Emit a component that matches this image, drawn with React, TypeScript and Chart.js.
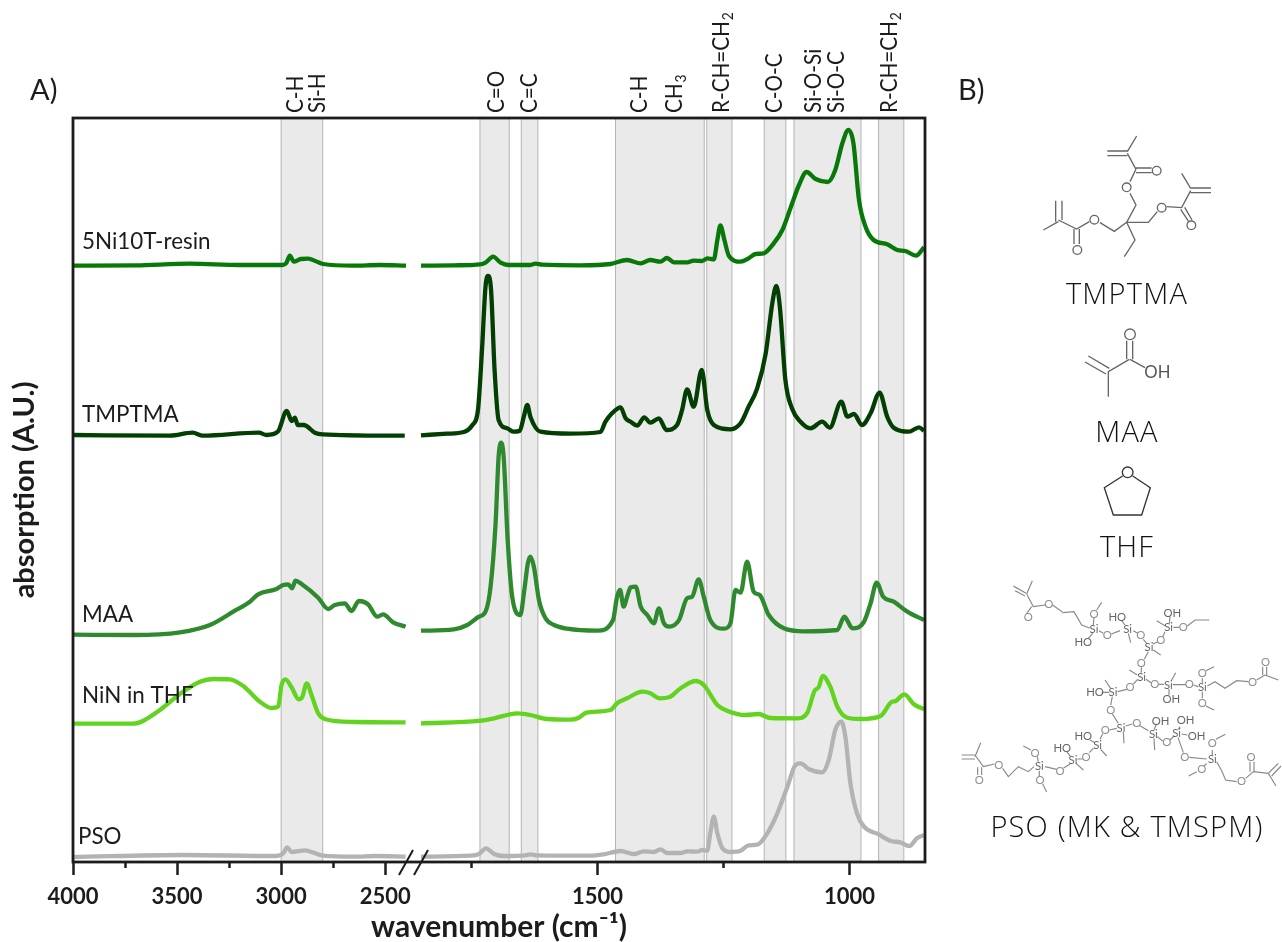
import React, { useEffect, useRef } from "react";
import { Chart, LinearScale, registerables } from "chart.js";

// ---------- wavenumber axis ----------
const AXIS_STOPS = [4000, 2400, 1850, 850];
const AXIS_FRACTIONS = [0, 333 / 852, 348 / 852, 1];
const MAJOR_TICKS = [4000, 3500, 3000, 2500, 1500, 1000];
const MINOR_TICKS = [3750, 3250, 2750, 1750, 1250];
const GAP_WAVENUMBER = 2100;

// ---------- shaded bands [from, to] in cm-1 ----------
const BANDS = [
  [3000, 2800], [1733, 1675], [1651, 1618], [1464, 1288], [1283, 1233],
  [1169, 1126], [1110, 977], [942, 892],
];

// ---------- assignment labels ----------
const ASSIGN_POS = [2934, 2829, 1702, 1635, 1417, 1349, 1254, 1149, 1073, 1026, 921];
const ASSIGN_TEXT = ["C-H", "Si-H", "C=O", "C=C", "C-H", "CH", "R-CH=CH", "C-O-C", "Si-O-Si", "Si-O-C", "R-CH=CH"];
const ASSIGN_SUB = ["", "", "", "", "", "3", "2", "", "", "", "2"];

// ---------- series names ----------
const SERIES_NAMES = ["5Ni10T-resin", "TMPTMA", "MAA", "NiN in THF", "PSO"];
const SERIES_COLORS = ["#087808", "#033f03", "#2f8a2f", "#62d420", "#b3b3b3"];
const NAME_HEIGHT = [613, 440, 240, 159, 18];

// ---------- 5Ni10T-resin ----------
const resinWaveL = [4000, 3700, 3438, 3200, 2998, 2975, 2958, 2939, 2905, 2870, 2830, 2798, 2655, 2526, 2400];
const resinAbsL = [596.3, 596.6, 598.3, 597, 597, 599, 606.3, 600.3, 603, 603.3, 600.5, 598, 596.3, 597, 596.3];
const resinWaveR = [1851, 1785, 1732, 1722, 1707, 1692, 1676, 1633, 1623, 1610, 1534, 1474, 1441, 1414, 1395, 1375, 1362, 1348, 1322, 1309, 1292, 1282, 1269, 1262, 1256, 1248, 1239, 1216, 1200, 1186, 1170, 1150, 1133, 1117, 1100, 1085, 1067, 1043, 1028, 1014, 1002, 992, 981, 968, 952, 925, 905, 889, 868, 852];
const resinAbsR = [596.3, 596.7, 597.7, 599.3, 605.3, 599.3, 597, 597, 598.3, 597.3, 596.7, 598, 602, 598.7, 602, 600.3, 604, 599.7, 599.7, 601.3, 601, 603.7, 602.7, 622, 636.7, 622, 606, 600.3, 603.7, 608, 608.7, 618.7, 632, 653.7, 677, 690, 683, 680, 692, 718.7, 732, 718.7, 662, 635.3, 622, 617.7, 612, 611, 606.3, 614.7];

// ---------- TMPTMA ----------
const tmptmaWaveL = [4000, 3534, 3425, 3376, 3107, 3070, 3016, 2973, 2949, 2934, 2920, 2891, 2838, 2800, 2406];
const tmptmaAbsL = [427, 426.3, 429.3, 426.3, 429.3, 427, 430.3, 451, 441, 444.3, 437, 437, 429.3, 427.7, 426.3];
const tmptmaWaveR = [1851, 1798, 1765, 1748, 1737, 1729, 1722, 1717, 1711, 1704, 1696, 1679, 1666, 1654, 1646, 1639, 1633, 1613, 1553, 1494, 1484, 1471, 1454, 1444, 1434, 1421, 1407, 1395, 1378, 1363, 1342, 1332, 1322, 1309, 1293, 1282, 1269, 1236, 1216, 1200, 1183, 1166, 1153, 1145, 1138, 1127, 1114, 1097, 1077, 1054, 1039, 1016, 1004, 991, 975, 958, 940, 925, 912, 882, 862, 852];
const tmptmaAbsR = [426.7, 428.3, 430, 437, 452, 512, 575.3, 586, 572, 492, 442, 433.7, 430.3, 431.3, 445.3, 457, 445.3, 430.3, 428.3, 430, 440.3, 448.7, 454.7, 443.7, 440.3, 436.3, 444.7, 439.3, 443.7, 432, 437, 452, 472.7, 455.3, 492, 452, 437, 432.7, 438.7, 455.3, 473.7, 508.7, 558.7, 576, 555.3, 482, 453.7, 440.3, 433.7, 440.3, 434.3, 460.3, 445.3, 448, 437, 448.7, 469.3, 445.3, 434.3, 430.3, 434.7, 431.3];

// ---------- MAA ----------
const maaWaveL = [4000, 3710, 3486, 3342, 3230, 3150, 3110, 3022, 2990, 2966, 2947, 2931, 2902, 2822, 2774, 2742, 2694, 2662, 2626, 2582, 2538, 2510, 2462, 2402];
const maaAbsL = [227.3, 227, 229.7, 237, 250.3, 260.3, 267.7, 273, 277, 277.7, 273.7, 281.3, 278, 264.3, 253, 257, 258.7, 251, 261, 257.7, 245.3, 247.7, 239.7, 235.3];
const maaWaveR = [1851, 1785, 1758, 1735, 1722, 1712, 1702, 1696, 1691, 1686, 1678, 1669, 1653, 1645, 1638, 1633, 1626, 1616, 1603, 1586, 1560, 1500, 1469, 1461, 1455, 1448, 1440, 1434, 1424, 1414, 1401, 1388, 1378, 1368, 1358, 1338, 1322, 1312, 1299, 1289, 1276, 1249, 1236, 1226, 1216, 1203, 1190, 1178, 1160, 1130, 1090, 1024, 1010, 994, 971, 958, 946, 933, 912, 885, 852];
const maaAbsR = [231.3, 232.7, 237, 245.3, 250.3, 275.3, 338.7, 405.3, 419.3, 405.3, 322, 265.3, 247, 272, 298.7, 305.3, 295.3, 262, 243.7, 237, 233.3, 231.3, 242, 265.3, 272, 255.3, 267, 274.7, 275.3, 255.3, 247, 238.7, 253.7, 238.7, 235.3, 242, 263.7, 265.3, 282.7, 265.3, 242, 233.3, 238.7, 272, 269.3, 300.3, 270.3, 267, 247, 233.7, 230.7, 232, 245.3, 233.7, 240.3, 258.7, 279.3, 265.3, 260.3, 250.3, 242];

// ---------- NiN in THF ----------
const ninWaveL = [4000, 3710, 3662, 3582, 3486, 3390, 3326, 3246, 3182, 3102, 3046, 3014, 2998, 2979, 2950, 2915, 2898, 2877, 2854, 2822, 2790, 2654, 2402];
const ninAbsL = [138.3, 138.3, 141.3, 152, 168, 180.3, 183, 182.7, 176, 160.3, 154, 155.3, 177, 182.7, 174.7, 162.7, 165.3, 178.7, 167, 148.7, 143, 140, 139.7];
const ninWaveR = [1851, 1732, 1705, 1659, 1633, 1600, 1553, 1537, 1522, 1474, 1461, 1441, 1411, 1395, 1376, 1358, 1335, 1305, 1289, 1262, 1243, 1206, 1180, 1157, 1104, 1084, 1069, 1061, 1053, 1038, 1024, 1004, 978, 938, 917, 908, 891, 872, 852];
const ninAbsR = [138.7, 141.3, 143.7, 148.7, 147, 143, 142.3, 144.3, 149.3, 152, 158.7, 163.7, 170.3, 168.7, 163.7, 164.7, 173.7, 181, 177, 157, 151.3, 147, 148, 144, 143.7, 148.7, 171.3, 174.7, 186, 175.3, 155.3, 144.3, 143, 146, 159.7, 161, 167.7, 157.7, 152.7];

// ---------- PSO ----------
const psoWaveL = [4000, 3470, 3022, 2990, 2971, 2950, 2886, 2798, 2654, 2542, 2402];
const psoAbsL = [5, 7, 6, 8.7, 14.7, 10, 11.7, 6.3, 5.3, 6, 5.3];
const psoWaveR = [1851, 1752, 1735, 1721, 1705, 1686, 1643, 1633, 1620, 1514, 1487, 1454, 1428, 1408, 1388, 1375, 1362, 1335, 1322, 1302, 1292, 1282, 1276, 1269, 1262, 1252, 1236, 1216, 1200, 1183, 1163, 1143, 1123, 1107, 1097, 1080, 1054, 1041, 1028, 1016, 1008, 998, 985, 971, 942, 918, 899, 881, 866, 852];
const psoAbsR = [5.3, 6.3, 8, 13.7, 8, 6, 6.7, 7.7, 6.7, 6.3, 7.7, 11, 8, 10.7, 10, 12.7, 9, 9, 10.7, 10.3, 12, 11.3, 28.7, 45.3, 28.7, 13.7, 10, 11.3, 16.7, 17.3, 28.7, 48.7, 75.3, 97, 98.7, 92.7, 89.7, 102, 132, 140.3, 125.3, 78.7, 48.7, 35.3, 27.7, 21, 19.7, 16, 23.7, 27];

const Y_MAX = 744;

const FONT = "Lato, 'Noto Sans', sans-serif";
const THIN = "'Open Sans', Lato, sans-serif";

function joinSpectrum(wL: number[], aL: number[], wR: number[], aR: number[]) {
  const left = wL.map((x, i) => ({ x, y: aL[i] }));
  const right = wR.map((x, i) => ({ x, y: aR[i] }));
  return [...left, { x: GAP_WAVENUMBER, y: null }, ...right];
}

class BrokenWavenumberScale extends LinearScale {
  static id = "brokenWavenumber";
  static defaults = LinearScale.defaults;
  getPixelForValue(value: number) {
    let i = 0;
    while (i < AXIS_STOPS.length - 2 && value < AXIS_STOPS[i + 1]) i++;
    const t = (AXIS_STOPS[i] - value) / (AXIS_STOPS[i] - AXIS_STOPS[i + 1]);
    const f = AXIS_FRACTIONS[i] + t * (AXIS_FRACTIONS[i + 1] - AXIS_FRACTIONS[i]);
    return this.left + f * (this.right - this.left);
  }
  getValueForPixel(pixel: number) {
    const f = (pixel - this.left) / (this.right - this.left);
    let i = 0;
    while (i < AXIS_STOPS.length - 2 && f > AXIS_FRACTIONS[i + 1]) i++;
    const t = (f - AXIS_FRACTIONS[i]) / (AXIS_FRACTIONS[i + 1] - AXIS_FRACTIONS[i]);
    return AXIS_STOPS[i] + t * (AXIS_STOPS[i + 1] - AXIS_STOPS[i]);
  }
}

Chart.register(...registerables, BrokenWavenumberScale);

const decorPlugin = {
  id: "decor",
  beforeDatasetsDraw(chart: any) {
    const { ctx, chartArea: a, scales } = chart;
    ctx.save();
    BANDS.forEach(([from, to]) => {
      const x0 = scales.x.getPixelForValue(from);
      const x1 = scales.x.getPixelForValue(to);
      ctx.fillStyle = "#eaeaea";
      ctx.fillRect(x0, a.top, x1 - x0, a.bottom - a.top);
      ctx.strokeStyle = "#b4b4b4";
      ctx.lineWidth = 1;
      ctx.beginPath();
      ctx.moveTo(x0, a.top);
      ctx.lineTo(x0, a.bottom);
      ctx.moveTo(x1, a.top);
      ctx.lineTo(x1, a.bottom);
      ctx.stroke();
    });
    ctx.restore();
  },
  afterDatasetsDraw(chart: any) {
    const { ctx, chartArea: a, scales } = chart;
    ctx.save();
    // frame
    ctx.strokeStyle = "#1c1c1c";
    ctx.lineWidth = 2.8;
    ctx.strokeRect(a.left, a.top, a.right - a.left, a.bottom - a.top);
    // axis break marks
    ctx.lineWidth = 2;
    const bx = scales.x.getPixelForValue(2400);
    [0, 15].forEach((d) => {
      ctx.beginPath();
      ctx.moveTo(bx + 7 + d, a.bottom - 12);
      ctx.lineTo(bx - 7 + d, a.bottom + 13);
      ctx.stroke();
    });
    // series names
    ctx.fillStyle = "#1c1c1c";
    ctx.font = `22.4px ${FONT}`;
    ctx.textAlign = "left";
    ctx.textBaseline = "alphabetic";
    SERIES_NAMES.forEach((name, i) => {
      const px = i === 4 ? a.left + 5 : a.left + 9;
      ctx.fillText(name, px, scales.y.getPixelForValue(NAME_HEIGHT[i]));
    });
    // band assignments
    ASSIGN_TEXT.forEach((txt, i) => {
      const px = scales.x.getPixelForValue(ASSIGN_POS[i]);
      ctx.save();
      ctx.translate(px + 8, a.top - 5);
      ctx.rotate(-Math.PI / 2);
      ctx.scale(0.92, 1);
      ctx.font = `22.5px ${FONT}`;
      ctx.fillText(txt, 0, 0);
      if (ASSIGN_SUB[i]) {
        const w = ctx.measureText(txt).width;
        ctx.font = `15px ${FONT}`;
        ctx.fillText(ASSIGN_SUB[i], w + 1, 4);
      }
      ctx.restore();
    });
    ctx.restore();
  },
};

// ---------- structure drawings of panel B ----------
const TMPTMA_BONDS = "M560 198L532 245M472 243H532M472 257H532M532 250L558 298M558 294H605M558 308H605M558 298L540 335M540 370L558 405L530 457H595L622 425M650 410L695 413L722 362M722 354H783M722 368H783M722 355L695 310M692 418L716 455M704 412L726 450M530 457L493 484L450 458M418 455L380 477L325 450M325 455L280 480M317 392V455M336 392V450M372 477V522M388 477V522M530 457L555 510L523 560";
const TMPTMA_OXY = [[620, 302], [530, 352], [635, 413], [724, 466], [433, 449], [382, 540]];
const MAA_BONDS = "M530 812V868M548 812V868M538 868L475 905V980M415 858L478 895M405 876L468 912M540 868L585 893";
const THF_BONDS = "M518 1218L463 1253L490 1335H575L601 1253L548 1218";
const PSO_BONDS = "M247 62L230 102M190 78L228 100M195 92L225 108M230 102L250 140M230 160L245 140M250 140L285 135M308 135L340 158L372 155L395 195L420 205M430 195L432 172M440 150L455 127M415 235L428 220M447 212L460 220M484 222L510 212M515 182L525 195M535 220L542 248M550 212L563 220M580 238L590 250M610 270L632 285M608 252L624 245M638 230L645 215M660 170L658 190M620 182L645 197M670 202H688M712 198L735 180H778M595 275L583 298M574 322V338M538 330L562 345M588 358L603 368M626 373H642M665 360L677 338M657 387V405M668 374H708M730 375L745 380M757 355V368M768 332L792 320M757 395V415M768 438L792 450M772 378L795 365L825 385L860 362L895 365M920 360L945 345M938 345V320M950 345V320M945 345L985 360M563 358L550 372M530 388L503 395M455 397H478M465 360L482 385M487 410L482 435M487 462L505 490M520 516L522 550M527 498L547 492M570 497L595 512M618 495L612 510M612 535L614 570M622 530L638 543M660 540L672 528M695 522L712 525M690 500L685 508M684 532L700 578M718 592L770 597M787 570V585M798 538L826 523M770 610L762 618M740 635L716 648M800 605L815 632L827 660L860 665M887 655L910 635M900 635V605M912 635V605M910 635L955 640L985 610M965 648L993 618M955 640L978 678M500 505L478 510M458 522L450 538M420 540L435 548M452 568L470 588M430 565L418 578M398 597H382M350 575L362 590M378 610L400 630M360 612L340 625M320 628L285 620M262 590L265 605M243 570L220 558M268 632V648M278 672L290 696M252 620L235 635L205 620L175 650L158 625M133 612L100 620M83 622V645M95 622V645M100 620L75 585M75 585H35M75 597H35M75 590L92 548";
const PSO_ATOMS: [number, number, string][] = [
  [235, 172, "O"], [296, 133, "O"], [432, 208, "Si"], [432, 163, "O"], [400, 247, "HO"], [472, 226, "O"], [533, 207, "Si"], [502, 170, "HO"],
  [572, 226, "O"], [597, 262, "Si"], [632, 240, "O"], [656, 202, "Si"], [667, 158, "OH"], [700, 202, "O"], [574, 310, "O"], [575, 352, "Si"],
  [614, 373, "O"], [655, 374, "Si"], [664, 418, "OH"], [718, 373, "O"], [757, 382, "Si"], [757, 340, "O"], [757, 428, "O"], [908, 365, "O"],
  [947, 305, "O"], [540, 382, "O"], [489, 397, "Si"], [435, 397, "HO"], [482, 450, "O"], [513, 503, "Si"], [560, 490, "O"], [610, 522, "Si"],
  [632, 482, "OH"], [650, 547, "O"], [680, 518, "Si"], [707, 480, "OH"], [740, 527, "OH"], [704, 592, "O"], [787, 597, "Si"], [787, 548, "O"],
  [755, 628, "O"], [875, 663, "O"], [903, 590, "O"], [466, 511, "O"], [443, 555, "Si"], [400, 527, "HO"], [408, 590, "O"], [369, 600, "Si"],
  [337, 563, "HO"], [330, 632, "O"], [268, 618, "Si"], [255, 578, "O"], [270, 660, "O"], [146, 615, "O"], [88, 661, "O"],
];

function PanelB() {
  const label = { fontFamily: THIN, fontWeight: 300, fill: "#111", textAnchor: "middle" as const };
  return (
    <svg width={1282} height={942} style={{ position: "absolute", left: 0, top: 0 }}>
      <text x={30} y={100} fontFamily={FONT} fontSize={29} fill="#1c1c1c">A)</text>
      <text x={958} y={100} fontFamily={FONT} fontSize={29} fill="#1c1c1c">B)</text>
      <g transform="translate(950,70) scale(0.33333)">
        <path d={TMPTMA_BONDS} fill="none" stroke="#666" strokeWidth={4} />
        {TMPTMA_OXY.map(([cx, cy], i) => (
          <circle key={i} cx={cx} cy={cy} r={13} fill="none" stroke="#666" strokeWidth={4} />
        ))}
        <path d={MAA_BONDS} fill="none" stroke="#666" strokeWidth={4} />
        <circle cx={540} cy={793} r={16} fill="none" stroke="#666" strokeWidth={4} />
        <text x={622} y={924} fontFamily={FONT} fontSize={50} fill="#555" textAnchor="middle">OH</text>
        <path d={THF_BONDS} fill="none" stroke="#333" strokeWidth={4} />
        <circle cx={533} cy={1207} r={16} fill="none" stroke="#333" strokeWidth={4} />
      </g>
      <g transform="translate(950,560) scale(0.33333)">
        <path d={PSO_BONDS} fill="none" stroke="#8a8a8a" strokeWidth={3.5} />
        {PSO_ATOMS.map(([x, y, t], i) => (
          <text key={i} x={x} y={y + 12} fontFamily={FONT} fontSize={34} fill={t === "O" ? "#8f8f8f" : "#666"} textAnchor="middle">{t}</text>
        ))}
      </g>
      <text x={1127} y={304} fontSize={29} letterSpacing={1.2} {...label}>TMPTMA</text>
      <text x={1127} y={442} fontSize={29} letterSpacing={1.2} {...label}>MAA</text>
      <text x={1127} y={557} fontSize={29} letterSpacing={1.2} {...label}>THF</text>
      <text x={1127} y={837} fontSize={29} letterSpacing={1.2} {...label}>PSO (MK &amp; TMSPM)</text>
    </svg>
  );
}

export default function App() {
  const ref = useRef<HTMLCanvasElement>(null);
  useEffect(() => {
    if (!ref.current) return;
    const spectra = [
      joinSpectrum(resinWaveL, resinAbsL, resinWaveR, resinAbsR),
      joinSpectrum(tmptmaWaveL, tmptmaAbsL, tmptmaWaveR, tmptmaAbsR),
      joinSpectrum(maaWaveL, maaAbsL, maaWaveR, maaAbsR),
      joinSpectrum(ninWaveL, ninAbsL, ninWaveR, ninAbsR),
      joinSpectrum(psoWaveL, psoAbsL, psoWaveR, psoAbsR),
    ];
    const tickAxis = (values: number[], length: number, weight: number, height: number, labels: boolean) => ({
      type: "brokenWavenumber",
      position: "bottom",
      min: 850,
      max: 4000,
      weight,
      border: { display: false },
      grid: { drawOnChartArea: false, drawTicks: true, tickLength: length, tickColor: "#1c1c1c", tickWidth: 2.5 },
      afterBuildTicks: (s: any) => { s.ticks = values.map((value) => ({ value })); },
      afterFit: (s: any) => { s.height = height; },
      ticks: {
        display: labels,
        autoSkip: false,
        maxRotation: 0,
        minRotation: 0,
        padding: 9,
        color: "#1c1c1c",
        font: { family: FONT, weight: "bold", size: 22 },
        callback: (v: number) => String(v),
      },
    });
    const chart = new Chart(ref.current, {
      type: "line",
      data: {
        datasets: spectra.map((data, i) => ({
          label: SERIES_NAMES[i],
          data,
          xAxisID: "x",
          yAxisID: "y",
          borderColor: SERIES_COLORS[i],
          borderWidth: 4.3,
          pointRadius: 0,
          cubicInterpolationMode: "monotone",
          spanGaps: false,
          borderCapStyle: "butt",
          borderJoinStyle: "round",
          fill: false,
        })),
      },
      options: {
        animation: false,
        responsive: false,
        events: [],
        layout: { padding: { left: 0, top: 118, right: 357, bottom: 0 } },
        plugins: { legend: { display: false }, tooltip: { enabled: false }, title: { display: false } },
        scales: {
          x: {
            ...tickAxis(MAJOR_TICKS, 13, 1, 80, true),
            title: {
              display: true,
              text: "wavenumber (cm⁻¹)",
              color: "#1c1c1c",
              font: { family: FONT, weight: "bold", size: 30, lineHeight: 1 },
              padding: { top: 0, bottom: 0 },
            },
          },
          xMinor: tickAxis(MINOR_TICKS, 6, 0, 0, false),
          y: {
            position: "left",
            min: 0,
            max: Y_MAX,
            border: { display: false },
            grid: { display: false },
            ticks: { display: false },
            afterFit: (s: any) => { s.width = 73; },
            title: {
              display: true,
              text: "absorption (A.U.)",
              color: "#1c1c1c",
              font: { family: FONT, weight: "bold", size: 29, lineHeight: 1.1 },
              padding: { top: 9, bottom: 0 },
            },
          },
        },
      } as any,
      plugins: [decorPlugin],
    } as any);
    return () => chart.destroy();
  }, []);
  return (
    <div style={{ position: "absolute", left: 0, top: 0, width: 1282, height: 942, background: "#fff" }}>
      <canvas ref={ref} width={1282} height={942} style={{ display: "block", position: "absolute", left: 0, top: 0 }} />
      <PanelB />
    </div>
  );
}
